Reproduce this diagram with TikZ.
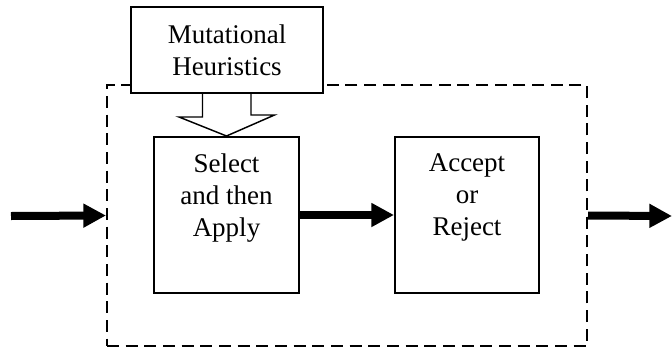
\documentclass[tikz,border=0pt]{standalone}
\usepackage{fontspec}
\setmainfont{Liberation Serif}
\usepackage{tikz}
\usetikzlibrary{positioning}
\usetikzlibrary{arrows.meta}

\begin{document}
\begin{tikzpicture}[
          x=0.75pt, y=-0.75pt,
          every node/.style={font=\fontsize{20.25}{24}\selectfont},
          stagebox/.style={draw, line width=1.5pt, fill=white, inner sep=0pt},
          looparea/.style={draw, line width=1.5pt, dash pattern=on 9pt off 5pt, inner sep=0pt},
          boxtext/.style={align=center, inner sep=0pt},
          flow/.style={line width=6pt, -{Triangle[length=17pt, width=17pt]}}
      ]
        \useasboundingbox (0,0) rectangle (672,347);
        % dashed frame round the two stages
        \node[looparea, minimum width=360pt, minimum height=195.75pt] (loop) at (347,215.5) {};
        % heuristics box and its block arrow
        \node[stagebox, minimum width=144pt, minimum height=64.5pt, boxtext] (heur) at (227,50)
            {Mutational\\Heuristics};
        \node[stagebox, minimum width=108.75pt, minimum height=117pt] (select) at (226.5,215) {};
        \node[stagebox, minimum width=108pt, minimum height=117pt] (accept) at (467,215) {};
        \node[boxtext, anchor=north, yshift=-13pt] (selecttxt) at (select.north)
            {Select\\and then\\Apply};
        \node[boxtext, anchor=north, yshift=-13pt] (accepttxt) at (accept.north)
            {Accept\\or\\Reject};
        \draw[line width=1.1pt, line join=miter] (heur.south) ++(-24.5,0) -- ++(0,23) -- ++(-23.5,0)
            -- (select.north) -- ++(48,-21) -- ++(-23.5,0) -- ++(0,-23);
        % thick flow arrows
        \coordinate (in) at (11,216);
        \coordinate (out) at (672,216);
        \draw[flow] (in) -- (loop.west);
        \draw[flow] (select.east) -- (accept.west);
        \draw[flow] (loop.east) -- (out);
      \end{tikzpicture}
\end{document}
